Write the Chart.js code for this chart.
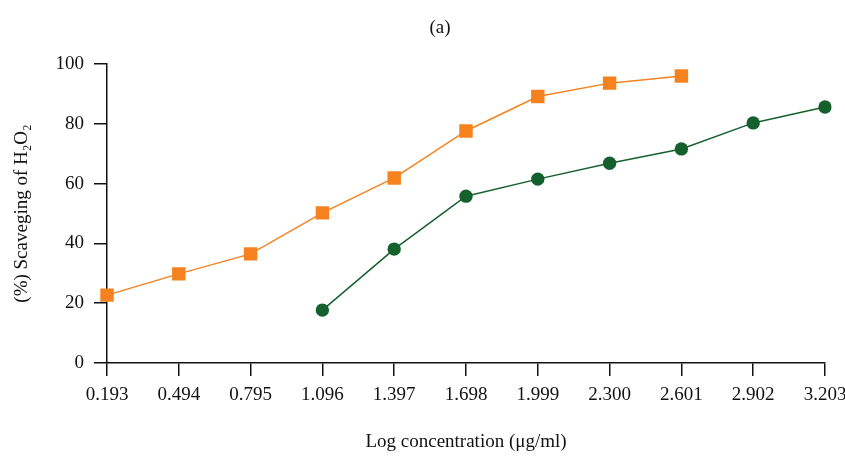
<!DOCTYPE html>
<html>
<head>
<meta charset="utf-8">
<script src="https://cdn.jsdelivr.net/npm/chart.js@4.4.1/dist/chart.umd.min.js"></script>
<style>
  html, body { margin: 0; padding: 0; background: #fff; }
  #wrap { width: 845px; height: 456px; }
</style>
</head>
<body>
<div id="wrap"><canvas id="myChart" width="845" height="456"></canvas></div>
<script>
// data
var logConc = ['0.193', '0.494', '0.795', '1.096', '1.397', '1.698', '1.999', '2.300', '2.601', '2.902', '3.203'];
var orangeSeries = [22.7, 29.8, 36.5, 50.2, 61.9, 77.6, 89.1, 93.6, 96.0, null, null];
var greenSeries = [null, null, null, 17.7, 38.1, 55.8, 61.5, 66.8, 71.6, 80.3, 85.6];
var yTicks = [0, 20, 40, 60, 80, 100];

var serif = "'Liberation Serif', 'DejaVu Serif', serif";

// panel label "(a)"
var panelLabel = {
  id: 'panelLabel',
  afterDraw: function (chart) {
    var ctx = chart.ctx;
    ctx.save();
    ctx.fillStyle = '#111';
    ctx.font = '19px ' + serif;
    ctx.textAlign = 'center';
    ctx.textBaseline = 'middle';
    ctx.fillText('(a)', 440, 28);
    ctx.restore();
  }
};

window.onload = function () {
  var ctx = document.getElementById('myChart').getContext('2d');

  var myChart = new Chart(ctx, {
    type: 'line',
    data: {
      labels: logConc,
      datasets: [{
        label: 'orange',
        data: orangeSeries,
        borderColor: '#f5821f',
        backgroundColor: '#f5821f',
        borderWidth: 1.5,
        pointStyle: 'rect',
        pointRadius: 9.5,
        pointBorderWidth: 0,
        tension: 0,
        spanGaps: false
      }, {
        label: 'green',
        data: greenSeries,
        borderColor: '#15612e',
        backgroundColor: '#15612e',
        borderWidth: 1.5,
        pointStyle: 'circle',
        pointRadius: 6.7,
        pointBorderWidth: 0,
        tension: 0,
        spanGaps: false
      }]
    },
    options: {
      responsive: false,
      animation: false,
      layout: {
        padding: { left: 0, top: 64, right: 20, bottom: 0 }
      },
      scales: {
        x: {
          type: 'category',
          offset: false,
          border: { display: true, color: '#111', width: 1.5 },
          grid: {
            display: true,
            drawOnChartArea: false,
            drawTicks: true,
            tickLength: 13,
            color: '#111',
            lineWidth: 1.5
          },
          ticks: {
            color: '#111',
            padding: 8,
            maxRotation: 0,
            autoSkip: false,
            font: { family: serif, size: 19 }
          },
          title: {
            display: true,
            text: 'Log concentration (\u03bcg/ml)',
            color: '#111',
            font: { family: serif, size: 19 },
            padding: { top: 0, bottom: 3 }
          },
          afterFit: function (scale) {
            scale.height = 93;
            scale.paddingLeft = 0;
            scale.paddingRight = 0;
          }
        },
        y: {
          min: 0,
          max: 100,
          border: { display: true, color: '#111', width: 1.5 },
          grid: {
            display: true,
            drawOnChartArea: false,
            drawTicks: true,
            tickLength: 13,
            color: '#111',
            lineWidth: 1.5
          },
          afterBuildTicks: function (scale) {
            scale.ticks = yTicks.map(function (v) { return { value: v }; });
          },
          ticks: {
            color: '#111',
            padding: 10,
            font: { family: serif, size: 19 }
          },
          title: {
            display: true,
            text: '(%) Scaveging of H\u2082O\u2082',
            color: '#111',
            font: { family: serif, size: 19 },
            padding: { top: 11, bottom: 0 }
          },
          afterFit: function (scale) {
            scale.width = 107;
            scale.paddingTop = 0;
            scale.paddingBottom = 0;
          }
        }
      },
      plugins: {
        legend: { display: false },
        tooltip: { enabled: false }
      }
    },
    plugins: [panelLabel]
  });
};
</script>
</body>
</html>
